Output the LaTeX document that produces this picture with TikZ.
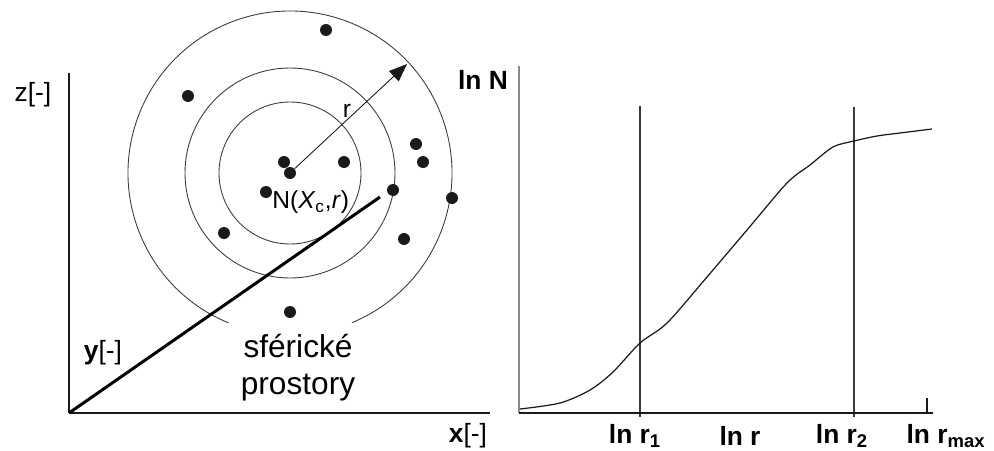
\documentclass[tikz,border=0pt]{standalone}
\usepackage{fontspec}
\setmainfont{Liberation Sans}
\usepackage{xcolor}
\usetikzlibrary{arrows.meta,positioning}
\definecolor{inkc}{HTML}{1A1A1A}
\definecolor{axgray}{HTML}{8A8A8A}
\definecolor{linec}{HTML}{3A3A3A}
\tikzset{
  ar/.style={-{Triangle[length=3.6mm,width=2.8mm]},line width=0.5pt,inkc},
  dot/.style={circle,fill=inkc,inner sep=0pt,minimum size=2.4mm},
  ring/.style={draw=linec,line width=0.5pt},
  axl/.style={font=\fontsize{15}{18}\selectfont},
  lnl/.style={font=\bfseries\fontsize{15}{18}\selectfont}
}

\begin{document}
\begin{tikzpicture}[x=0.02cm,y=-0.02cm]
\useasboundingbox (0,0) rectangle (994,450);
% left: point cloud
\coordinate (O) at (69,413);
\coordinate (Z) at (69,73);
\coordinate (X) at (490,413);
\coordinate (Y) at (380,197);
\coordinate (C) at (290,173);
\coordinate (Rtip) at (407,64);
\draw[ring] (C) circle (71);
\draw[ring] (C) circle (105);
\draw[ring] (C) ++(112.3:162) arc[start angle=112.3,end angle=427.5,radius=162];
\draw[inkc,line width=1.4pt] (O)--(Z);
\draw[inkc,line width=1.1pt] (O)--(X);
\draw[black,line width=1.7pt] (O)--(Y);
\node[dot] (d1) at (326,30) {};
\node[dot] (d2) at (188,96) {};
\node[dot] (d3) at (284,162) {};
\node[dot] (dc) at (C) {};
\node[dot] (d5) at (344,162) {};
\node[dot] (d6) at (266,192) {};
\node[dot] (d7) at (416,144) {};
\node[dot] (d8) at (423,162) {};
\node[dot] (d9) at (393,190) {};
\node[dot] (d10) at (452,198) {};
\node[dot] (d11) at (224,233) {};
\node[dot] (d12) at (404,239) {};
\node[dot] (d13) at (290,312) {};
\draw[ar] (dc) -- (Rtip);
\node[font=\fontsize{14}{16}\selectfont] (rl) at (347,111) {r};
\node[font=\fontsize{14}{16}\selectfont,anchor=west,inner sep=0pt] (nl) at (272,202) {N(\textit{X}\textsubscript{c},\textit{r})};
\node[font=\fontsize{18}{21}\selectfont,align=center] (sp) at (298,368) {sférické\\prostory};
\node[axl] (zl) at (33,95) {z[-]};
\node[axl] (yl) at (103,353) {\textbf{y}[-]};
\node[axl] (xl) at (468,436) {\textbf{x}[-]};
% right: ln N vs ln r
\coordinate (P) at (519,413);
\coordinate (Ptop) at (519,66);
\coordinate (Pend) at (933,413);
\coordinate (T1) at (927,398);
\coordinate (T2) at (927,413);
\coordinate (A1) at (640,106);
\coordinate (B1) at (640,417);
\coordinate (A2) at (854,107);
\coordinate (B2) at (854,417);
\draw[linec,line width=0.7pt] (A1)--(B1);
\draw[linec,line width=0.7pt] (A2)--(B2);
\draw[axgray,line width=1.5pt] (P)--(Ptop);
\draw[inkc,line width=1pt] (P)--(Pend);
\draw[inkc,line width=1pt] (T1)--(T2);
\draw[inkc,line width=0.7pt] plot[smooth] coordinates {(520,409) (560,403) (590,390) (613,372) (640,343) (667,323) (707,277) (747,230) (787,183) (810,165) (833,147) (854,141) (877,136) (900,133) (932,129)};
\node[lnl] (lN) at (483,80) {ln N};
\node[lnl] (l1) at (635,436) {ln r\textsubscript{1}};
\node[lnl] (lr) at (740,436) {ln r};
\node[lnl] (l2) at (842,436) {ln r\textsubscript{2}};
\node[lnl] (lm) at (946,436) {ln r\textsubscript{max}};
\end{tikzpicture}
\end{document}
